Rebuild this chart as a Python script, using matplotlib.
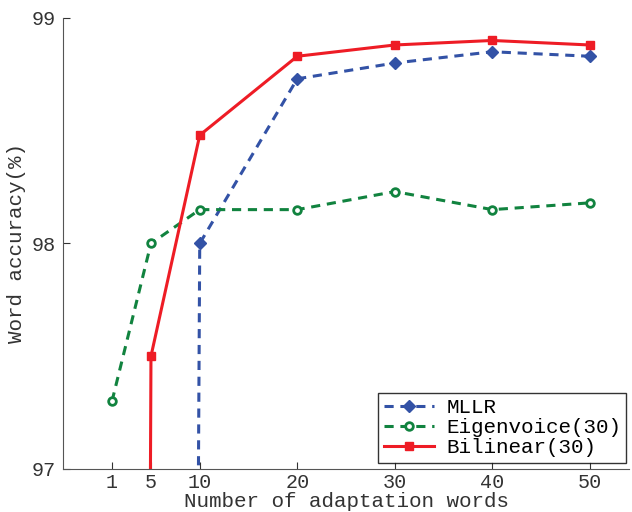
import matplotlib.pyplot as plt

# data
words = [1, 5, 10, 20, 30, 40, 50]
mllr = [60.0, 60.0, 98.0, 98.73, 98.80, 98.85, 98.83]
eigenvoice = [97.3, 98.0, 98.15, 98.15, 98.23, 98.15, 98.18]
bilinear = [60.0, 97.5, 98.48, 98.83, 98.88, 98.9, 98.88]

plt.rcParams["font.family"] = ["Liberation Mono", "DejaVu Sans Mono"]

fig = plt.figure(figsize=(6.32, 5.12), dpi=100)
ax = fig.add_axes([0.1, 0.084, 0.895, 0.881])

blue = "#3352a6"
green = "#11833f"
red = "#ee1c25"

ax.plot(words, mllr, color=blue, ls="--", lw=2.2, marker="D", ms=6,
        mfc=blue, mec=blue, label="MLLR", dashes=(3, 2.2))
ax.plot(words, eigenvoice, color=green, ls="--", lw=2.2, marker="o", ms=5.5,
        mfc="white", mec=green, mew=2, label="Eigenvoice(30)", dashes=(3, 2.2))
ax.plot(words, bilinear, color=red, ls="-", lw=2.2, marker="s", ms=6,
        mfc=red, mec=red, label="Bilinear(30)")

ax.set_xlim(-4, 54)
ax.set_ylim(97, 99)
ax.set_xticks(words)
ax.set_yticks([97, 98, 99])
ax.tick_params(direction="in", labelsize=14.5, colors="#333333", length=5)
ax.tick_params(axis="x", pad=3)
ax.tick_params(axis="y", pad=5)
ax.spines["top"].set_visible(False)
ax.spines["right"].set_visible(False)
for s in ["left", "bottom"]:
    ax.spines[s].set_color("#555555")

ax.set_xlabel("Number of adaptation words", fontsize=15, labelpad=0, color="#333333")
ax.set_ylabel("Word accuracy(%)", fontsize=15, color="#333333", labelpad=4)

leg = ax.legend(loc="lower right", bbox_to_anchor=(1.003, 0.005), fontsize=15,
                frameon=True, fancybox=False, edgecolor="black",
                handlelength=2.4, handletextpad=0.6, borderpad=0.25,
                labelspacing=0.05, borderaxespad=0.2)
leg.get_frame().set_linewidth(1.0)

fig.savefig("out.png", dpi=100)
